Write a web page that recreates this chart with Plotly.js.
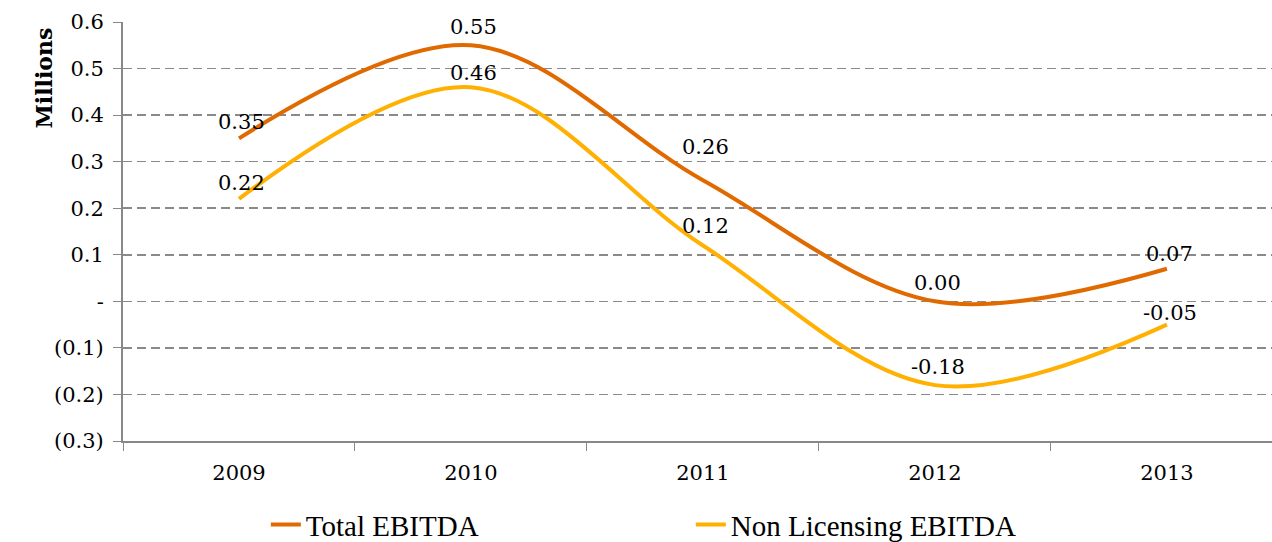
<!DOCTYPE html>
<html>
<head>
<meta charset="utf-8">
<script src="https://cdn.plot.ly/plotly-3.0.1.min.js"></script>
<style>html,body{margin:0;padding:0;background:#fff;}#chart{width:1272px;height:542px;}</style>
</head>
<body>
<div id="chart"></div>
<script>
const years = ['2009', '2010', '2011', '2012', '2013'];
const totalEbitda = [0.35, 0.55, 0.26, 0.00, 0.07];
const nonLicensingEbitda = [0.22, 0.46, 0.12, -0.18, -0.05];
const seriesNames = ['Total EBITDA', 'Non Licensing EBITDA'];
const yTickVals = [0.6, 0.5, 0.4, 0.3, 0.2, 0.1, 0, -0.1, -0.2, -0.3];
const yTickText = ['0.6', '0.5', '0.4', '0.3', '0.2', '0.1', '-', '(0.1)', '(0.2)', '(0.3)'];

// label styling (pixel lift above each point)
const labelLift = [[16, 18, 33, 18, 15], [16, 14, 19, 18, 12]];
const colors = ['#E06A00', '#FFB000'];

const serif = 'DejaVu Serif';
const legendSerif = 'Liberation Serif';
const fmt = v => v.toFixed(2);
const seriesValues = [totalEbitda, nonLicensingEbitda];

const traces = seriesValues.map((vals, s) => ({
  x: years, y: vals, name: seriesNames[s], type: 'scatter', mode: 'lines',
  line: {color: colors[s], width: 4, shape: 'spline', smoothing: 1},
  hoverinfo: 'x+y'
}));

const labelAnnotations = [];
seriesValues.forEach((vals, s) => {
  vals.forEach((v, i) => {
    labelAnnotations.push({
      x: i, y: v, xref: 'x', yref: 'y', text: fmt(v), showarrow: false,
      xanchor: 'center', yanchor: 'middle', xshift: 3, yshift: labelLift[s][i],
      font: {family: serif, size: 21, color: '#000'}
    });
  });
});

const layout = {
  width: 1272, height: 542,
  margin: {l: 123, r: 0, t: 22, b: 101},
  paper_bgcolor: '#fff', plot_bgcolor: '#fff',
  font: {family: serif},
  showlegend: true,
  legend: {
    orientation: 'h', xref: 'container', yref: 'container',
    x: 0.209, y: 0.032, xanchor: 'left', yanchor: 'middle',
    entrywidth: 380, entrywidthmode: 'pixels',
    font: {family: legendSerif, size: 29, color: '#000'}
  },
  xaxis: {
    type: 'category', range: [-0.5, 4.453],
    showgrid: false, showline: true, linecolor: '#888', linewidth: 2,
    ticks: 'outside', tickson: 'boundaries', ticklen: 8, tickcolor: '#888', tickwidth: 1,
    tickfont: {family: serif, size: 21, color: '#000'},
    ticklabelstandoff: 12, zeroline: false
  },
  yaxis: {
    range: [-0.3, 0.6], tickvals: yTickVals, ticktext: yTickText,
    showgrid: true, gridcolor: '#8a8a8a', griddash: '9px,5px', gridwidth: 1.5,
    showline: true, linecolor: '#888', linewidth: 2,
    ticks: 'outside', ticklen: 8, tickcolor: '#888', tickwidth: 1,
    tickfont: {family: serif, size: 21, color: '#000'},
    zeroline: false, ticklabelstandoff: 5
  },
  annotations: [{
    text: '<b>Millions</b>', xref: 'paper', yref: 'paper', x: 0, y: 1,
    xshift: -95, yshift: -4, textangle: -90, showarrow: false,
    font: {family: serif, size: 22, color: '#000'}
  }].concat(labelAnnotations)
};

Plotly.newPlot('chart', traces, layout, {displayModeBar: false, staticPlot: true});
</script>
</body>
</html>
